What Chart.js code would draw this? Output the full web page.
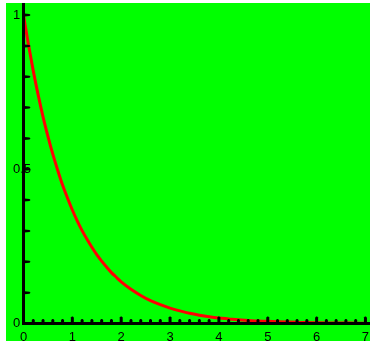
<!DOCTYPE html>
<html>
<head>
<meta charset="utf-8">
<script src="https://cdn.jsdelivr.net/npm/chart.js@4/dist/chart.umd.min.js"></script>
<style>
html,body{margin:0;padding:0;background:#fff;}
#wrap{position:relative;width:370px;height:341px;}
</style>
</head>
<body>
<div id="wrap"><canvas id="c"></canvas></div>
<script>
// decay curve samples
const xs=[0,0.1,0.2,0.3,0.4,0.5,0.6,0.7,0.8,0.9,1.0,1.1,1.2,1.3,1.4,1.5,1.6,1.7,1.8,1.9,2.0,2.2,2.4,2.6,2.8,3.0,3.2,3.4,3.6,3.8,4.0,4.2,4.4,4.6,4.8,5.0,5.2,5.4,5.6,5.8,6.0,6.2,6.4,6.6,6.8,7.0];
const ys=[1.000,0.905,0.819,0.741,0.670,0.607,0.549,0.497,0.449,0.407,0.368,0.333,0.301,0.273,0.247,0.223,0.202,0.183,0.165,0.150,0.135,0.111,0.091,0.074,0.061,0.050,0.041,0.033,0.027,0.022,0.018,0.015,0.012,0.010,0.008,0.007,0.0055,0.0045,0.0037,0.003,0.0025,0.002,0.0017,0.0014,0.0011,0.0009];
const xLabels=[0,1,2,3,4,5,6,7];
const yLabels=[0,0.5,1];

const FONT={family:"'Liberation Sans',sans-serif",size:13};
const near=(v,list)=>list.some(t=>Math.abs(t-v)<1e-6);

const frame={
  id:'frame',
  beforeDraw(chart){
    const ctx=chart.ctx;
    ctx.save();
    ctx.fillStyle='#00ff00';
    ctx.fillRect(6,3,chart.width-6,chart.height-3);
    ctx.restore();
  },
  afterDatasetsDraw(chart){
    const ctx=chart.ctx,a=chart.chartArea,sx=chart.scales.x,sy=chart.scales.y;
    ctx.save();
    ctx.fillStyle='#000';
    // axis lines
    ctx.fillRect(a.left-1.5,a.top,3,a.bottom-a.top+1.5);
    ctx.fillRect(a.left-1.5,a.bottom-1.5,a.right-a.left+1.5,3);
    // y ticks point right
    sy.ticks.forEach(t=>{
      const py=sy.getPixelForValue(t.value);
      ctx.beginPath();
      ctx.moveTo(a.left+1,py-1.5);
      ctx.lineTo(a.left+6,py-1);
      ctx.lineTo(a.left+7,py);
      ctx.lineTo(a.left+6,py+1);
      ctx.lineTo(a.left+1,py+1.5);
      ctx.fill();
    });
    // x ticks point up, longer on whole units
    sx.ticks.forEach(t=>{
      const px=sx.getPixelForValue(t.value);
      const h=near(t.value,xLabels)?7:4.5;
      ctx.beginPath();
      ctx.moveTo(px-1.5,a.bottom);
      ctx.lineTo(px-1.5,a.bottom-h+1);
      ctx.lineTo(px-0.5,a.bottom-h);
      ctx.lineTo(px+0.5,a.bottom-h);
      ctx.lineTo(px+1.5,a.bottom-h+1);
      ctx.lineTo(px+1.5,a.bottom);
      ctx.fill();
    });
    ctx.restore();
  }
};

function fixX(s){s.height=17.5;s.paddingLeft=0;s.paddingRight=0;s.paddingTop=0;s.paddingBottom=0;}
function fixY(s){s.width=23.5;s.paddingLeft=0;s.paddingRight=0;s.paddingTop=0;s.paddingBottom=0;}

new Chart(document.getElementById('c'),{
  type:'scatter',
  data:{datasets:[{
    data:xs.map((x,i)=>({x,y:ys[i]})),
    showLine:true,
    borderColor:'#ff0000',
    borderWidth:3,
    pointRadius:0,
    cubicInterpolationMode:'monotone',
    fill:false
  }]},
  options:{
    responsive:true,
    maintainAspectRatio:false,
    animation:false,
    layout:{padding:{left:0,top:3,right:0,bottom:0}},
    plugins:{legend:{display:false},tooltip:{enabled:false}},
    scales:{
      x:{
        type:'linear',min:0,max:7.093,
        afterFit:fixX,
        grid:{display:false,drawTicks:false},
        border:{display:false},
        ticks:{stepSize:0.2,includeBounds:false,autoSkip:false,maxRotation:0,padding:6,
          color:'#000',font:FONT,
          callback:v=>near(v,xLabels)?String(Math.round(v)):''}
      },
      y:{
        type:'linear',min:0,max:1.039,
        afterFit:fixY,
        grid:{display:false,drawTicks:false},
        border:{display:false},
        // mirrored labels are not clipped, so "0.5" can run over the axis
        ticks:{stepSize:0.1,includeBounds:false,autoSkip:false,mirror:true,crossAlign:'near',padding:-10.5,
          color:'#000',font:FONT,
          callback:v=>near(v,yLabels)?String(+v.toFixed(1)):''}
      }
    }
  },
  plugins:[frame]
});
</script>
</body>
</html>
